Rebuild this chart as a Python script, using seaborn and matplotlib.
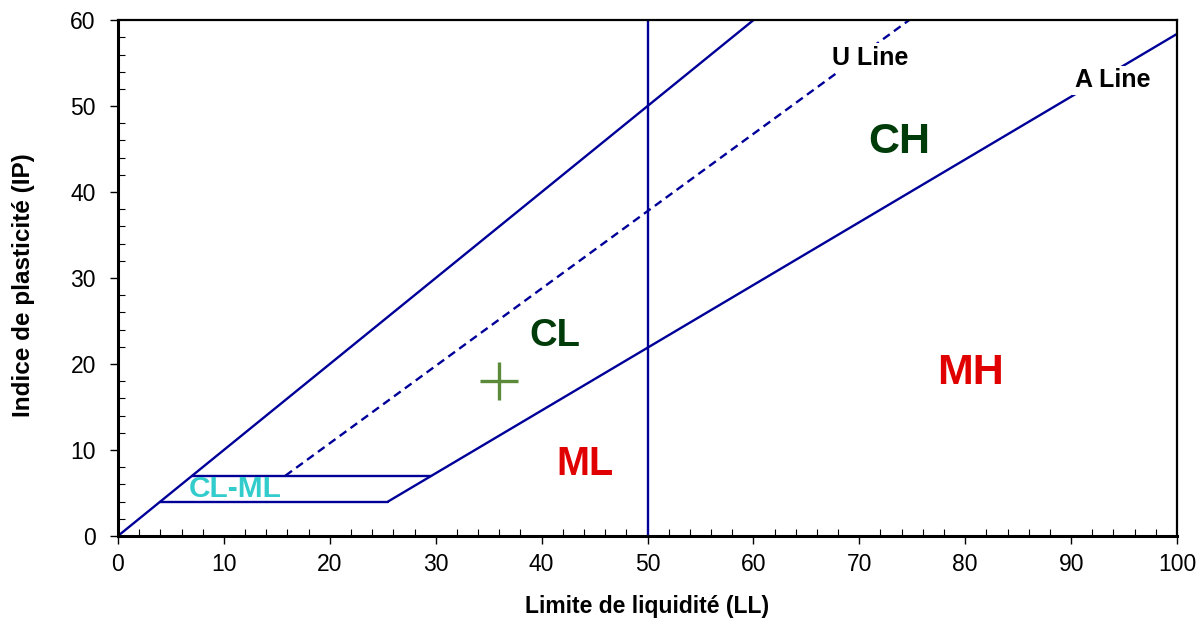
import matplotlib
matplotlib.use("Agg")
import matplotlib.pyplot as plt
import seaborn as sns
import pandas as pd
from matplotlib.ticker import MultipleLocator

sns.set_theme(style="white")
plt.rcParams['font.family'] = ['Liberation Sans', 'DejaVu Sans']

# Line segments of the plasticity chart (LL, IP)
upper_ll = [0, 60]
upper_ip = [0, 60]
u_line_ll = [15.8, 74.7]
u_line_ip = [7, 60]
a_line_ll = [25.5, 100]
a_line_ip = [4, 58.4]
top_band_ll = [7, 29.6]
top_band_ip = [7, 7]
bottom_band_ll = [4, 25.5]
bottom_band_ip = [4, 4]
ll50_ll = [50, 50]
ll50_ip = [0, 60]

# Sample point
sample_ll = [36]
sample_ip = [18]

# Zone labels
zone_labels = ["CL", "CH", "ML", "MH", "CL-ML"]
zone_ll = [41.2, 73.8, 44.1, 80.5, 11.1]
zone_ip = [23.3, 45.8, 8.4, 19.0, 5.4]
zone_colors = ["#003c0a", "#003c0a", "#e00000", "#e00000", "#33cccc"]
zone_sizes = [27.5, 31, 28.5, 31, 21.5]

line_labels = ["U Line", "A Line"]
line_label_ll = [71.0, 93.9]
line_label_ip = [55.6, 53.0]

navy = "#000099"

fig = plt.figure(figsize=(12.04, 6.29), dpi=100)
ax = fig.add_axes([0.098, 0.148, 0.8796, 0.820])

segments = [
    (upper_ll, upper_ip),
    (a_line_ll, a_line_ip),
    (top_band_ll, top_band_ip),
    (bottom_band_ll, bottom_band_ip),
    (ll50_ll, ll50_ip),
]
for xs, ys in segments:
    df = pd.DataFrame({"LL": xs, "IP": ys})
    sns.lineplot(data=df, x="LL", y="IP", ax=ax, color=navy, lw=1.7,
                 sort=False, estimator=None, zorder=2)

df_u = pd.DataFrame({"LL": u_line_ll, "IP": u_line_ip})
sns.lineplot(data=df_u, x="LL", y="IP", ax=ax, color=navy, lw=1.7,
             sort=False, estimator=None, zorder=2)
ax.lines[-1].set_dashes([3.5, 2.2])

sns.scatterplot(x=sample_ll, y=sample_ip, ax=ax, marker="+", s=750,
                color="#5a8a3a", linewidth=2.4, zorder=3)

for lab, x, y, c, s in zip(zone_labels, zone_ll, zone_ip, zone_colors, zone_sizes):
    ax.text(x, y, lab, color=c, fontsize=s, fontweight="bold",
            ha="center", va="center", zorder=4)

for lab, x, y in zip(line_labels, line_label_ll, line_label_ip):
    ax.text(x, y, lab, color="black", fontsize=18, fontweight="bold",
            ha="center", va="center", zorder=4,
            bbox=dict(facecolor="white", edgecolor="none", pad=2))

ax.set_xlim(0, 100)
ax.set_ylim(0, 60)
ax.xaxis.set_major_locator(MultipleLocator(10))
ax.yaxis.set_major_locator(MultipleLocator(10))
ax.xaxis.set_minor_locator(MultipleLocator(2))
ax.yaxis.set_minor_locator(MultipleLocator(2))
ax.tick_params(which="major", direction="out", length=6, width=1, color="black",
               labelsize=16.5, labelcolor="black", bottom=True, left=True)
ax.tick_params(which="minor", direction="in", length=5, width=0.8, color="black",
               bottom=True, left=True)
ax.tick_params(axis="x", pad=6)
ax.tick_params(axis="y", pad=10)
for sp in ax.spines.values():
    sp.set_visible(True)
    sp.set_color("black")
    sp.set_linewidth(1.6)
ax.spines["left"].set_linewidth(2.2)
ax.spines["bottom"].set_linewidth(2.2)

ax.set_xlabel("Limite de liquidité (LL)", fontsize=16.5, fontweight="bold",
              color="black", labelpad=14)
ax.set_ylabel("Indice de plasticité (IP)", fontsize=17.5, fontweight="bold",
              color="black", va="center")
ax.yaxis.set_label_coords(-0.0888, 0.487)
ax.grid(False)

fig.savefig("out.png", dpi=100)
